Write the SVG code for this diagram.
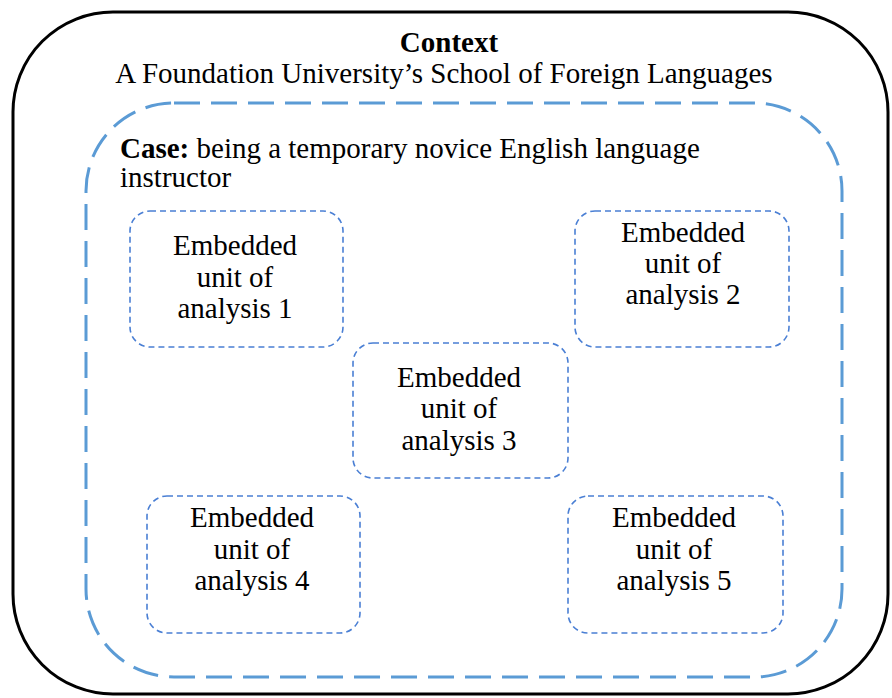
<svg xmlns="http://www.w3.org/2000/svg" width="892" height="698" viewBox="0 0 892 698" font-family="Liberation Serif" font-size="29">
  <g id="context">
    <rect x="13" y="12" width="875" height="682" rx="100" ry="100" fill="none" stroke="#000" stroke-width="3"/>
    <text font-weight="bold" text-anchor="middle" x="449" y="52">Context</text>
    <text text-anchor="middle" x="444" y="83">A Foundation University’s School of Foreign Languages</text>
  </g>

  <g id="case">
    <rect x="86" y="103" width="756" height="574" rx="88" ry="88" fill="none" stroke="#5B9BD5" stroke-width="3" stroke-dasharray="26 11"/>
    <text x="120" y="158"><tspan font-weight="bold">Case:</tspan> being a temporary novice English language</text>
    <text x="120" y="187">instructor</text>
  </g>

  <g id="units" fill="none" stroke="#4A7FD4" stroke-width="1.6" stroke-dasharray="6 4">
    <g id="unit1">
      <rect x="130" y="211" width="213" height="136" rx="20" ry="20"/>
      <text fill="#000" stroke="none" text-anchor="middle" x="235" y="255">Embedded</text>
      <text fill="#000" stroke="none" text-anchor="middle" x="235" y="287">unit of</text>
      <text fill="#000" stroke="none" text-anchor="middle" x="235" y="318">analysis 1</text>
    </g>

    <g id="unit2">
      <rect x="575" y="211" width="214" height="136" rx="20" ry="20"/>
      <text fill="#000" stroke="none" text-anchor="middle" x="683" y="242">Embedded</text>
      <text fill="#000" stroke="none" text-anchor="middle" x="683" y="273">unit of</text>
      <text fill="#000" stroke="none" text-anchor="middle" x="683" y="304">analysis 2</text>
    </g>

    <g id="unit3">
      <rect x="353" y="343" width="215" height="135" rx="20" ry="20"/>
      <text fill="#000" stroke="none" text-anchor="middle" x="459" y="387">Embedded</text>
      <text fill="#000" stroke="none" text-anchor="middle" x="459" y="418">unit of</text>
      <text fill="#000" stroke="none" text-anchor="middle" x="459" y="450">analysis 3</text>
    </g>

    <g id="unit4">
      <rect x="147" y="496" width="213" height="137" rx="20" ry="20"/>
      <text fill="#000" stroke="none" text-anchor="middle" x="252" y="527">Embedded</text>
      <text fill="#000" stroke="none" text-anchor="middle" x="252" y="559">unit of</text>
      <text fill="#000" stroke="none" text-anchor="middle" x="252" y="590">analysis 4</text>
    </g>

    <g id="unit5">
      <rect x="568" y="496" width="215" height="137" rx="20" ry="20"/>
      <text fill="#000" stroke="none" text-anchor="middle" x="674" y="527">Embedded</text>
      <text fill="#000" stroke="none" text-anchor="middle" x="674" y="559">unit of</text>
      <text fill="#000" stroke="none" text-anchor="middle" x="674" y="590">analysis 5</text>
    </g>
  </g>

  <g id="connectors"></g>
</svg>
